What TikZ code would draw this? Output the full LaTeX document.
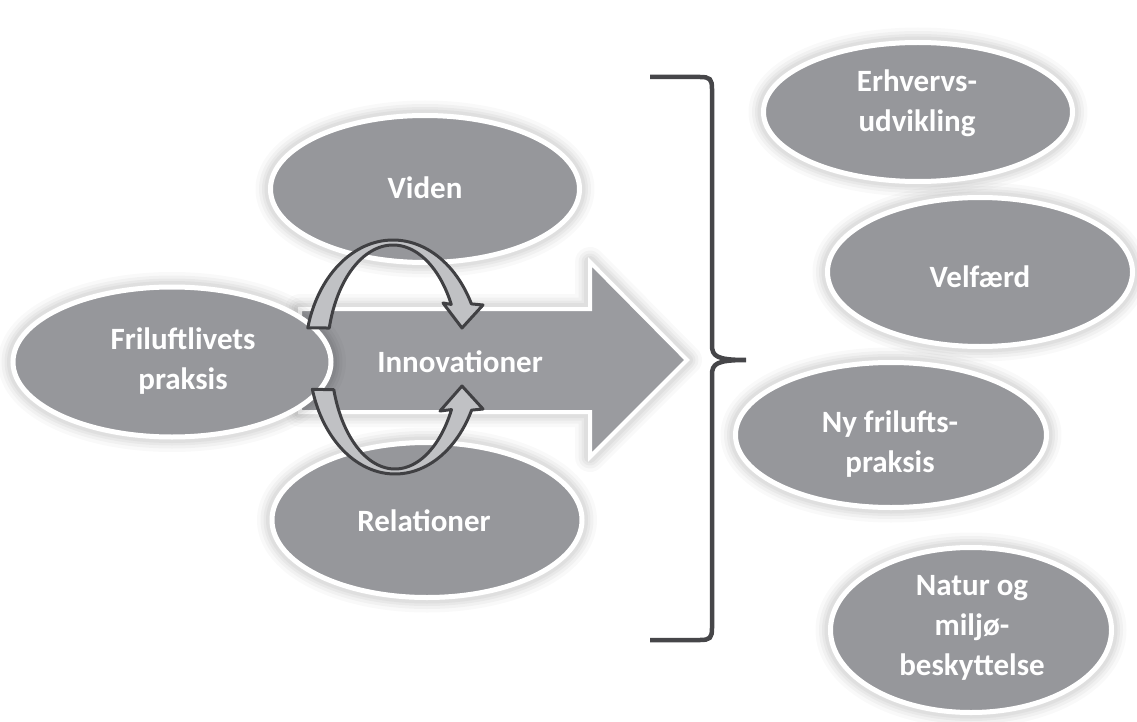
\documentclass[tikz,border=0pt]{standalone}
\usepackage{fontspec}
\setmainfont{Carlito}
\usetikzlibrary{shapes.geometric}
\definecolor{blobgray}{RGB}{150,151,155}
\definecolor{arrowgray}{RGB}{154,155,159}
\definecolor{ringgray}{RGB}{192,193,196}
\definecolor{ringdark}{RGB}{64,64,67}
\definecolor{bracedark}{RGB}{70,70,73}
\begin{document}
\begin{tikzpicture}[x=1pt,y=-1pt,
  glow/.style={
    preaction={draw=black, draw opacity=0.025, line width=30pt, line join=round},
    preaction={draw=black, draw opacity=0.03, line width=23pt, line join=round},
    preaction={draw=black, draw opacity=0.035, line width=17pt, line join=round},
    preaction={draw=black, draw opacity=0.04, line width=12pt, line join=round}},
  blob/.style={ellipse, fill=blobgray, draw=white, line width=5pt, inner sep=0pt, glow},
  lbl/.style={text=white, font=\fontsize{31}{40}\selectfont\bfseries, align=center, inner sep=0pt},
  ringarrow/.style={fill=ringgray, draw=ringdark, line width=3pt, line join=round}]
\useasboundingbox (0,0) rectangle (1137,722);

% left group ellipses
\node[blob, minimum width=309pt, minimum height=147pt] (viden) at (425,189) {};
\node[blob, minimum width=310pt, minimum height=155pt] (relat) at (427,520) {};

% big arrow
\path[fill=arrowgray, draw=white, line width=4pt, line join=miter, glow]
  (300,309) -- (590,309) -- (590,262) -- (687,360) -- (590,457) -- (590,412) -- (300,412) -- cycle;

\node[blob, minimum width=318pt, minimum height=150pt] (fril) at (172,362) {};

% ring arrows
\path[ringarrow]
  plot[domain=165.6:27, samples=60] ({393+88*cos(\x)},{357-117*sin(\x)})
  -- (483,305) -- (462,328) -- (443,303)
  -- plot[domain=28:165, samples=60] ({393+66*cos(\x)},{357-112*sin(\x)}) -- cycle;
\path[ringarrow]
  plot[domain=164:27, samples=60] ({395+86*cos(\x)},{357+117*sin(\x)})
  -- (483,409) -- (462,386) -- (440,411)
  -- plot[domain=28:163, samples=60] ({395+64*cos(\x)},{357+112*sin(\x)}) -- cycle;

% labels left
\node[lbl] (viden-t) at (425,188) {Viden};
\node[lbl] (fril-t) at (183,361) {Friluftlivets\\praksis};
\node[lbl] (innov-t) at (460,362) {Innovationer};
\node[lbl] (relat-t) at (424,521) {Relationer};

% brace
\draw[bracedark, line width=4.5pt, line cap=butt]
  (650,77) -- (700,77) .. controls (710,77) and (712,79) .. (712,89)
  -- (712,345) .. controls (712,356) and (716,360) .. (746,360)
  .. controls (716,360) and (712,364) .. (712,375)
  -- (712,628) .. controls (712,638) and (710,640) .. (700,640) -- (650,640);

% right ellipses
\node[blob, minimum width=309pt, minimum height=139pt] (erhv) at (918,112) {};
\node[blob, minimum width=305pt, minimum height=149pt] (velf) at (980,272) {};
\node[blob, minimum width=311pt, minimum height=145pt] (nyfr) at (891,435) {};
\node[blob, minimum width=281pt, minimum height=165pt] (natur) at (971,630) {};

\node[lbl] (erhv-t) at (917,103) {Erhvervs-\\udvikling};
\node[lbl] (velf-t) at (980,277) {Velfærd};
\node[lbl] (nyfr-t) at (890,444) {Ny frilufts-\\praksis};
\node[lbl] (natur-t) at (972,628) {Natur og\\miljø-\\beskyttelse};
\end{tikzpicture}
\end{document}
